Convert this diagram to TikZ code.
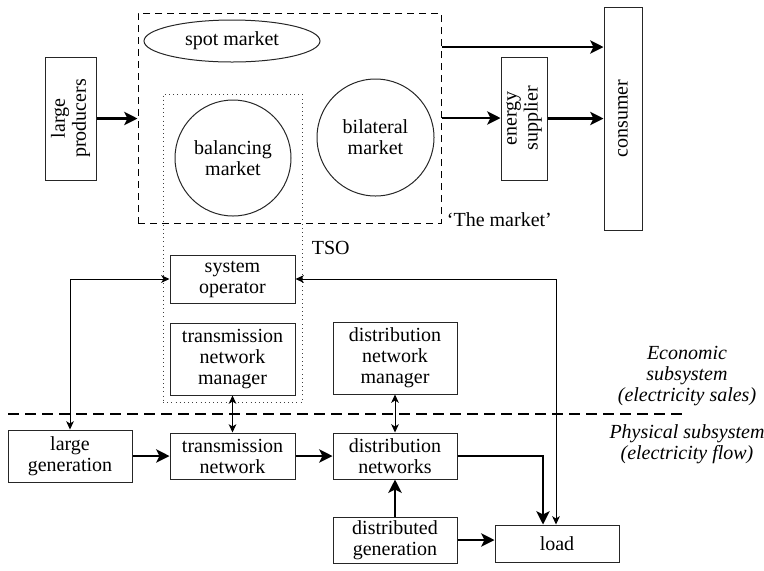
\documentclass[tikz,border=0pt]{standalone}
\usepackage{fontspec}
\setmainfont{Liberation Serif}
\usetikzlibrary{arrows.meta,shapes.geometric}

\tikzset{
  box/.style={draw=black!85, line width=0.6pt, inner sep=0pt, align=center},
  roundbox/.style={draw=black!85, line width=0.6pt, ellipse, inner sep=0pt, align=center},
  ringbox/.style={draw=black!85, line width=0.6pt, circle, inner sep=0pt, align=center},
  marketbox/.style={draw, dash pattern=on 4.2pt off 3pt, line width=0.6pt, inner sep=0pt},
  tsobox/.style={draw=black!75, dotted, line width=0.5pt, inner sep=0pt},
  flow/.style={line width=1.5pt, -{Stealth[length=8pt,width=8pt,inset=2pt]}},
  ctrl/.style={line width=0.6pt, {Stealth[length=5pt,width=4.6pt,inset=1.4pt]}-{Stealth[length=5pt,width=4.6pt,inset=1.4pt]}},
  divider/.style={line width=1.2pt, dash pattern=on 6.6pt off 3.6pt},
  note/.style={align=center, font=\itshape\fontsize{12}{12.6}\selectfont}
}

\begin{document}
\begin{tikzpicture}[x=0.6pt, y=-0.6pt, font=\fontsize{12}{12.6}\selectfont]
\useasboundingbox (0,0) rectangle (764,570);

% market region and TSO region
\node[marketbox, minimum width=181.8pt, minimum height=126pt] (market) at (289.5,118) {};
\node[tsobox, minimum width=83.4pt, minimum height=184.8pt] (tso) at (232.5,248) {};

% trading places
\node[roundbox, minimum width=105.6pt, minimum height=25.2pt] (spot) at (232,41) {spot market};
\node[ringbox, minimum size=69.6pt] (balancing) at (233,158) {balancing\\market};
\node[ringbox, minimum size=70.2pt] (bilateral) at (375.5,137.5) {bilateral\\market};

% actors on the trading side
\node[box, rotate=90, minimum width=73.8pt, minimum height=30.6pt] (producers) at (70.5,118.5) {large\\producers};
\node[box, rotate=90, minimum width=73.8pt, minimum height=27.6pt] (supplier) at (524,118.5) {energy\\supplier};
\node[box, rotate=90, minimum width=133.8pt, minimum height=22.8pt] (consumer) at (623,118.5) {consumer};

\node[anchor=west] (marketlabel) at (441,220) {`The market'};
\node[anchor=west] (tsolabel) at (306,248) {TSO};

% operators and managers
\node[box, minimum width=75pt, minimum height=28.8pt] (sysop) at (232.5,279) {system\\operator};
\node[box, minimum width=75pt, minimum height=43.2pt] (tnm) at (232.5,359) {transmission\\network\\manager};
\node[box, minimum width=74.4pt, minimum height=43.2pt] (dnm) at (395,358) {distribution\\network\\manager};

% physical system
\node[box, minimum width=74.4pt, minimum height=31.2pt] (lgen) at (70,456) {large\\generation};
\node[box, minimum width=75pt, minimum height=27.6pt] (tnet) at (232.5,456) {transmission\\network};
\node[box, minimum width=74.4pt, minimum height=27.6pt] (dnet) at (395,456) {distribution\\networks};
\node[box, minimum width=74.4pt, minimum height=27.6pt] (dgen) at (395,540) {distributed\\generation};
\node[box, minimum width=74.4pt, minimum height=22.2pt] (load) at (557,543.5) {load};

% subsystem divider and captions
\coordinate (sepL) at (8,414);
\coordinate (sepR) at (685,414);
\draw[divider] (sepL) -- (sepR);
\node[note] (econ) at (687,376) {Economic\\subsystem\\(electricity sales)};
\node[note] (phys) at (687,444) {Physical subsystem\\(electricity flow)};

% trading flows
\coordinate (mk1) at ([yshift=42.6pt]market.east);
\draw[flow] (producers.south) -- (producers.south -| market.west);
\draw[flow] (mk1) -- (mk1 -| consumer.north);
\draw[flow] (market.east) -- (market.east -| supplier.north);
\draw[flow] (supplier.south) -- (supplier.south -| consumer.north);

% control links
\draw[ctrl] (sysop.east) -| ([xshift=-0.6pt]load.north);
\draw[ctrl] (sysop.west) -| (lgen.north);
\draw[ctrl] (tnm.south) -- (tnet.north);
\draw[ctrl] (dnm.south) -- (dnet.north);

% electricity flows
\draw[flow] (lgen.east) -- (tnet.west);
\draw[flow] (tnet.east) -- (dnet.west);
\draw[flow] (dnet.east) -| ([xshift=-8.4pt]load.north);
\draw[flow] (dgen.north) -- (dnet.south);
\draw[flow] (dgen.east) -- (dgen.east -| load.west);
\end{tikzpicture}
\end{document}
